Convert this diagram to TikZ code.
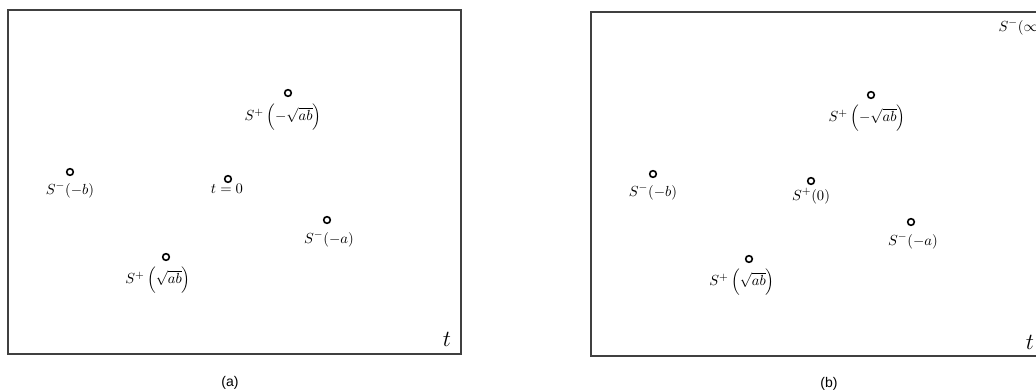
\documentclass[tikz,border=0pt]{standalone}
\usepackage{amsmath,amssymb}
\usepackage{fontspec}
\newfontfamily\capfont{Liberation Sans}
\usepackage{tikz}
\usetikzlibrary{positioning}

\begin{document}
\begin{tikzpicture}[
  x=0.75pt, y=-0.75pt,
  frame/.style={draw=black!75, line width=0.8pt},
  pole/.style={circle, draw, line width=1.2pt, minimum size=5pt, inner sep=0pt},
  lab/.style={font=\fontsize{11}{13}\selectfont, inner sep=1pt},
  axislab/.style={font=\fontsize{18}{20}\selectfont, inner sep=0pt},
  captext/.style={font=\capfont\fontsize{10.5}{12}\selectfont, inner sep=0pt},
]
\useasboundingbox (0,0) rectangle (1036,391);

%% ---- Panel (a) ----
\draw[frame] (8,10) rectangle (461,354);
\node[axislab] (ta) at (447,339) {$t$};
\node[captext] (capa) at (230,383) {(a)};

\node[lab] (la1) at (283,117) {$S^{+}\left(-\sqrt{ab}\right)$};
\node[lab] (la2) at (70,190)  {$S^{-}(-b)$};
\node[lab] (la3) at (227,189) {$t=0$};
\node[lab] (la4) at (329,239) {$S^{-}(-a)$};
\node[lab] (la5) at (158,280) {$S^{+}\left(\sqrt{ab}\right)$};

\node[pole] (pa1) at (288,93)  {};
\node[pole] (pa2) at (70,172)  {};
\node[pole] (pa3) at (228,179) {};
\node[pole] (pa4) at (327,220) {};
\node[pole] (pa5) at (166,257) {};

%% ---- Panel (b) ----
\draw[frame] (1045,12) -- (591,12) -- (591,356) -- (1045,356);
\node[axislab] (tb) at (1030,342) {$t$};
\node[captext] (capb) at (829,384) {(b)};

\node[lab] (lb1) at (867,118) {$S^{+}\left(-\sqrt{ab}\right)$};
\node[lab] (lb2) at (653,192) {$S^{-}(-b)$};
\node[lab] (lb3) at (811,196) {$S^{+}(0)$};
\node[lab] (lb4) at (913,241) {$S^{-}(-a)$};
\node[lab] (lb5) at (742,282) {$S^{+}\left(\sqrt{ab}\right)$};
\node[lab, anchor=west] (lb6) at (997,27) {$S^{-}(\infty)$};

\node[pole] (pb1) at (871,95)  {};
\node[pole] (pb2) at (653,174) {};
\node[pole] (pb3) at (811,181) {};
\node[pole] (pb4) at (911,222) {};
\node[pole] (pb5) at (749,259) {};

\end{tikzpicture}
\end{document}
